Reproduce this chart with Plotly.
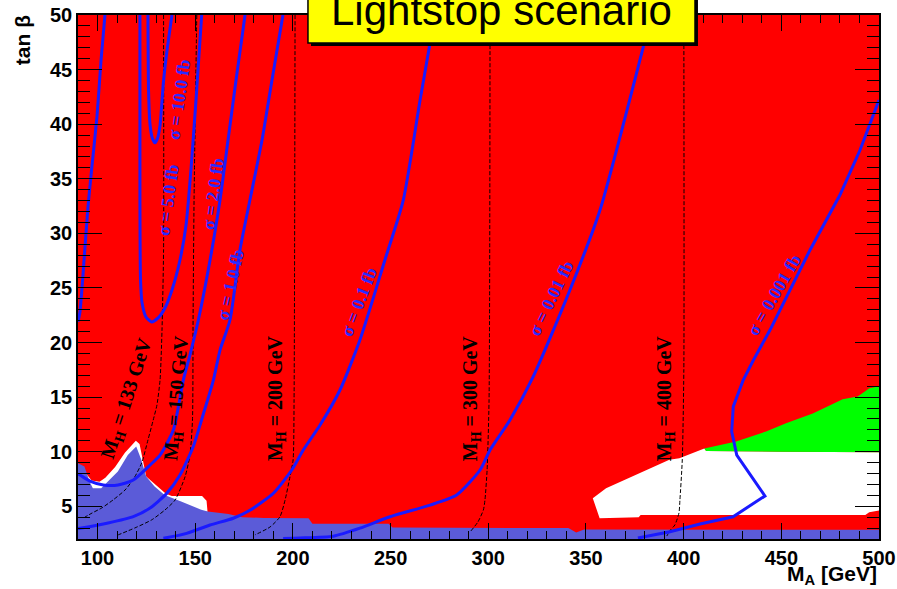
import plotly.graph_objects as go

# ---------------- axes ----------------
ma_range = [90, 500]
tb_range = [2, 50]
x_tickvals = [100, 150, 200, 250, 300, 350, 400, 450, 500]
y_tickvals = [5, 10, 15, 20, 25, 30, 35, 40, 45, 50]

# ---------------- excluded / allowed regions (M_A, tan beta) ----------------
blue_ma = [90, 90, 93.3, 95.9, 97.6, 101.9, 105.3, 110.4, 115.5, 119.8, 122.4, 124.9, 129.2, 134.3,
           142.8, 153.1, 156.4, 167.0, 174.0, 185.0, 208, 210, 249, 251, 341, 345, 349, 500, 500]
blue_tb = [2, 8.95, 8.64, 7.26, 6.66, 6.66, 7.26, 8.18, 9.7, 10.47, 9.25, 7.72, 6.8, 6.04,
           5.43, 4.67, 4.52, 4.3, 4.0, 3.93, 3.91, 3.39, 3.39, 3.05, 3.0, 2.6, 2.86, 2.84, 2]

white_left_ma = [94.5, 97, 101, 104, 109, 114, 119.6, 121.5, 124.9, 126, 130, 135, 138, 153.5, 155.8,
                 156.3, 140, 110, 95]
white_left_tb = [7.9, 7.35, 7.25, 7.6, 8.6, 9.9, 11.0, 10.7, 7.72, 7.55, 6.95, 6.15, 5.95, 5.95, 5.5,
                 4.5, 4.5, 5.0, 6.0]

white_right_ma = [353.5, 360.3, 392.7, 397.8, 410.6, 411.5, 450, 500, 500, 495, 493, 378, 377, 357]
white_right_tb = [5.74, 6.66, 9.25, 9.4, 10.3, 10.05, 10.0, 9.95, 4.6, 4.45, 4.2, 4.2, 4.0, 3.9]

green_ma = [410.6, 420, 426.9, 442.2, 452.4, 466.1, 481.4, 489.1, 495.1, 500, 500, 450, 411.5]
green_tb = [10.3, 10.7, 10.93, 11.85, 12.6, 13.5, 14.8, 15.05, 15.8, 16.0, 9.95, 10.0, 10.05]

# ---------------- cross-section contours ----------------
sig_left_ma = [103.8, 101.8, 99.7, 97.2, 95.1, 93.1, 91.0, 90.0]
sig_left_tb = [50, 45.88, 40.66, 36.26, 32.41, 27.56, 22.79, 21.9]

sig10_ma = [125.8, 126.1, 126.9, 128.1, 129.4, 130.7, 132.0, 133.7, 135.6, 138.1]
sig10_tb = [50, 43.1, 39.9, 38.7, 38.3, 38.7, 39.9, 43.8, 46.8, 50]

sig5_ma = [121.7, 121.7, 122.0, 122.8, 124.8, 127.7, 131.0, 134.5, 138.1, 142.2, 145.3, 147.8, 150.4, 153.3]
sig5_tb = [50, 33.05, 25.73, 23.62, 22.34, 21.88, 22.25, 23.16, 24.81, 27.56, 30.76, 35.8, 42.21, 50]

sig2_ma = [175.5, 170.9, 166.8, 162.7, 157.6, 151.6, 147.3, 143.9, 138.8, 132.0, 126.9, 118.3, 110.5,
           103.0, 96.1, 91.0, 90.0]
sig2_tb = [50, 44.05, 38.55, 33.05, 27.56, 22.06, 18.85, 16.56, 11.98, 9.69, 8.78, 7.40, 6.95,
           6.95, 7.31, 7.86, 7.95]

sig1_ma = [194.9, 189.3, 184.2, 178.0, 172.9, 167.8, 162.7, 159.3, 154.0, 149.0, 142.2, 135.4, 126.9,
           118.3, 105.4, 91.0, 90.0]
sig1_tb = [50, 44.05, 38.55, 33.05, 28.48, 22.06, 19.31, 16.56, 13.36, 10.48, 7.86, 6.18, 4.84,
           4.05, 3.47, 2.98, 2.95]

sig01_ma = [272.7, 265.1, 256.5, 247.1, 234.3, 224.1, 213.9, 205.3, 199.4, 190.0, 178.0, 169.5, 157.6,
            145.6, 133.7]
sig01_tb = [50, 42.21, 33.05, 27.56, 20.23, 15.65, 12.44, 10.15, 8.32, 6.19, 4.63, 3.90, 3.28,
            2.52, 2.06]

sig001_ma = [383.6, 379.4, 357.2, 341.8, 323.0, 311.1, 300.9, 295.8, 283.8, 270.2, 249.7, 234.3,
             220.7, 203.6, 195.0]
sig001_tb = [50, 47.10, 32.14, 24.81, 16.87, 12.90, 10.15, 8.32, 6.03, 5.11, 4.04, 2.99,
             2.26, 2.09, 2.04]

sig0001_ma = [376.6, 393.0, 408.4, 425.3, 441.6, 434.0, 427.2, 424.6, 425.4, 430.5, 435.7, 444.2,
              454.4, 464.7, 480.0, 490.3, 500.0]
sig0001_tb = [2.09, 2.67, 3.37, 4.04, 5.94, 7.86, 9.69, 11.83, 14.12, 16.56, 18.39, 21.14,
              24.81, 28.48, 33.51, 37.63, 42.21]

# ---------------- M_H iso-lines ----------------
mh133_ma = [133.8, 133.8, 133.0, 132.0, 130.4, 128.5, 125.8, 122.6, 118.7, 114.1, 107.9, 102.1, 97.2, 93.6]
mh133_tb = [50, 28.48, 21.15, 16.56, 14.27, 12.90, 11.06, 8.96, 7.58, 6.49, 5.57, 4.84, 4.38, 4.01]

mh150_ma = [150.8, 149.4, 148.9, 148.6, 147.3, 144.8, 139.7, 134.5, 127.7, 119.2, 110.6]
mh150_tb = [50, 33.05, 22.06, 12.90, 9.69, 7.70, 5.57, 4.66, 3.75, 3.02, 2.38]

mh200_ma = [201.1, 200.6, 200.1, 198.5, 196.0, 193.4, 188.3, 180.6]
mh200_tb = [50, 14.73, 9.24, 7.70, 5.57, 4.05, 3.10, 2.38]

mh300_ma = [300.9, 300.4, 299.4, 298.3, 297.5, 294.7, 290.7]
mh300_tb = [50, 14.73, 8.32, 5.57, 4.66, 3.56, 2.65]

mh400_ma = [400.1, 400.1, 399.3, 398.1, 397.6, 395.5, 393.3, 391.4]
mh400_tb = [50, 17.48, 9.24, 5.57, 4.38, 3.28, 2.83, 2.28]

# ---------------- labels ----------------
sig_labels = ["σ = 10.0 fb", "σ = 5.0 fb", "σ = 2.0 fb", "σ = 1.0 fb", "σ = 0.1 fb", "σ = 0.01 fb", "σ = 0.001 fb"]
sig_label_ma = [141.7, 136.1, 159.1, 167.8, 233.8, 332.1, 446.2]
sig_label_tb = [42.2, 33.05, 33.6, 25.3, 23.7, 24.1, 24.35]
sig_label_ang = [-82, -82, -82, -77, -69, -64, -60]

mh_labels = ["133", "150", "200", "300", "400"]
mh_label_ma = [115.1, 140.5, 191.3, 291.2, 390.5]
mh_label_tb = [14.9, 14.9, 14.9, 14.9, 14.9]
mh_label_ang = [-72, -85, -90, -90, -90]

RED = "#ff0000"
BLUE_FILL = "#5b5bd8"
LINE_BLUE = "#1a1aff"

fig = go.Figure()


def region(xs, ys, color):
    fig.add_trace(go.Scatter(x=xs, y=ys, mode="lines", fill="toself", fillcolor=color,
                             line=dict(width=0, color=color), hoverinfo="skip", showlegend=False))


def curve(xs, ys, color, width, dash=None):
    fig.add_trace(go.Scatter(x=xs, y=ys, mode="lines",
                             line=dict(width=width, color=color, dash=dash, shape="spline", smoothing=0.6),
                             hoverinfo="skip", showlegend=False))


region(white_left_ma, white_left_tb, "white")
region(blue_ma, blue_tb, BLUE_FILL)
region(white_right_ma, white_right_tb, "white")
region(green_ma, green_tb, "#00ff00")

for xs, ys in [(mh133_ma, mh133_tb), (mh150_ma, mh150_tb), (mh200_ma, mh200_tb),
               (mh300_ma, mh300_tb), (mh400_ma, mh400_tb)]:
    curve(xs, ys, "black", 1, dash="4px,2px")

for xs, ys in [(sig_left_ma, sig_left_tb), (sig10_ma, sig10_tb), (sig5_ma, sig5_tb),
               (sig2_ma, sig2_tb), (sig1_ma, sig1_tb), (sig01_ma, sig01_tb),
               (sig001_ma, sig001_tb)]:
    curve(xs, ys, LINE_BLUE, 3)
fig.add_trace(go.Scatter(x=sig0001_ma, y=sig0001_tb, mode="lines",
                         line=dict(width=3, color=LINE_BLUE), hoverinfo="skip", showlegend=False))

annotations = []
for t, x, y, a in zip(sig_labels, sig_label_ma, sig_label_tb, sig_label_ang):
    annotations.append(dict(text=t, x=x, y=y, xref="x", yref="y", showarrow=False, textangle=a,
                            xanchor="center", yanchor="middle",
                            font=dict(family="Liberation Serif", size=18, color="#2a2aff", weight="bold")))
for t, x, y, a in zip(mh_labels, mh_label_ma, mh_label_tb, mh_label_ang):
    annotations.append(dict(text="M<sub>H</sub> = " + t + " GeV", x=x, y=y, xref="x", yref="y",
                            showarrow=False, textangle=a, xanchor="center", yanchor="middle",
                            font=dict(family="Liberation Serif", size=20, color="black", weight="bold")))

annotations.append(dict(text="tan β", x=-0.0699, y=0.952, xref="paper", yref="paper", showarrow=False,
                        textangle=-90, xanchor="center", yanchor="middle",
                        font=dict(family="Liberation Sans", size=21, color="black", weight="bold")))
annotations.append(dict(text="M<sub>A</sub> [GeV]", x=1.0, y=-0.069, xref="paper", yref="paper",
                        xanchor="right", yanchor="middle", showarrow=False,
                        font=dict(family="Liberation Sans", size=21, color="black", weight="bold")))
annotations.append(dict(text="Lightstop scenario", x=0.5287, y=1.0086, xref="paper", yref="paper",
                        xanchor="center", yanchor="middle", showarrow=False,
                        font=dict(family="Liberation Sans", size=42, color="black")))

shapes = [
    dict(type="rect", xref="paper", yref="paper", x0=0.2909, x1=0.7740, y0=0.9408, y1=1.08,
         fillcolor="black", line=dict(width=0), layer="above"),
    dict(type="rect", xref="paper", yref="paper", x0=0.2871, x1=0.7703, y0=0.9466, y1=1.08,
         fillcolor="#ffff00", line=dict(width=1.5, color="black"), layer="above"),
]

axis_common = dict(showgrid=False, zeroline=False, showline=True, linecolor="black", linewidth=1.5,
                   mirror="allticks", ticks="inside", tickcolor="black", tickwidth=1, automargin=False,
                   tickfont=dict(family="Liberation Sans", size=20, color="black", weight="bold"))

fig.update_layout(
    width=897, height=589,
    margin=dict(l=78, r=18, t=15, b=50),
    paper_bgcolor="white", plot_bgcolor=RED,
    showlegend=False,
    annotations=annotations,
    shapes=shapes,
    xaxis=dict(range=ma_range, tickmode="array", tickvals=x_tickvals,
               ticklen=16, minor=dict(dtick=10, tick0=0, ticklen=8, ticks="inside", tickcolor="black"),
               **axis_common),
    yaxis=dict(range=tb_range, tickmode="array", tickvals=y_tickvals,
               ticklen=24, minor=dict(dtick=1, tick0=0, ticklen=12, ticks="inside", tickcolor="black"),
               **axis_common),
)

fig.write_html("out.html")
